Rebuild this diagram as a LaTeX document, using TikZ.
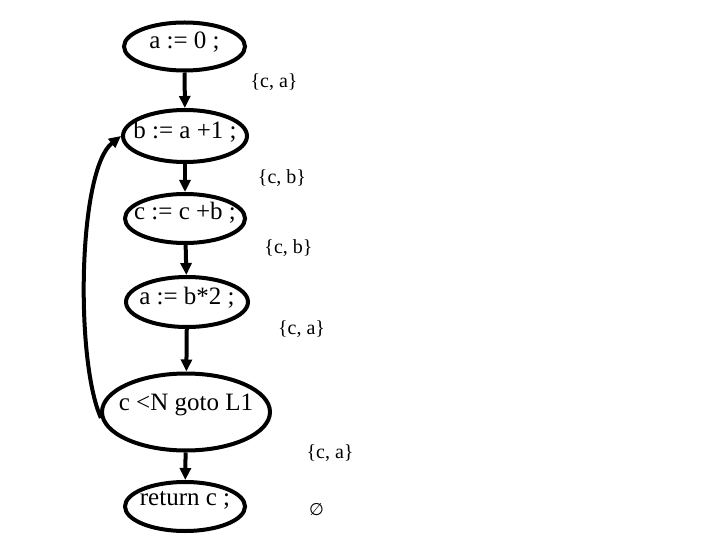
\documentclass[tikz,border=0pt]{standalone}
\usepackage{fontspec}
\setmainfont{Liberation Serif}
\newfontfamily\dejavu{DejaVu Sans}
\usetikzlibrary{shapes.geometric,arrows.meta}

\tikzset{
  stmt/.style={ellipse, draw, line width=4pt, inner sep=0pt},
  stmttext/.style={font=\fontsize{25}{29}\selectfont, inner sep=0pt},
  live/.style={font=\fontsize{20}{24}\selectfont, inner sep=0pt},
  flow/.style={line width=4pt, -{Triangle[length=12pt,width=11pt]}}
}

\begin{document}
\begin{tikzpicture}[x=1pt, y=-1pt]
  \useasboundingbox (0,0) rectangle (720,540);
  % statements
  \node[stmt, minimum width=121, minimum height=48,
    label={[stmttext, yshift=4]center:a := 0 ;}] (n1) at (184.5,46.5) {};
  \node[stmt, minimum width=124, minimum height=52,
    label={[stmttext, yshift=4]center:b := a +1 ;}] (n2) at (185,136) {};
  \node[stmt, minimum width=120, minimum height=49,
    label={[stmttext, yshift=6]center:c := c +b ;}] (n3) at (185,218.5) {};
  \node[stmt, minimum width=122, minimum height=50,
    label={[stmttext, yshift=4]center:a := b*2 ;}] (n4) at (187,302) {};
  \node[stmt, minimum width=168, minimum height=77,
    label={[stmttext, yshift=7]center:c <N goto L1}] (n5) at (186,412) {};
  \node[stmt, minimum width=120, minimum height=49,
    label={[stmttext, yshift=6]center:return c ;}] (n6) at (185,506.5) {};
  % live variables
  \node[live] (l1) at (274,82) {\{c, a\}};
  \node[live] (l2) at (282,178.5) {\{c, b\}};
  \node[live] (l3) at (288.5,248) {\{c, b\}};
  \node[live] (l4) at (301.5,329) {\{c, a\}};
  \node[live] (l5) at (330,453) {\{c, a\}};
  \node[live] (l6) at (316.5,510) {\dejavu\fontsize{17}{20}\selectfont ∅};
  % edges
  \draw[flow] (n1) -- (n2);
  \draw[flow] (n2) -- (n3);
  \draw[flow] (n3) -- (n4);
  \draw[flow] (n4) -- (n5);
  \draw[flow] (n5) -- (n6);
  \draw[flow] (n5.184) .. controls (75,360) and (78,170) .. (n2.west);
\end{tikzpicture}
\end{document}
